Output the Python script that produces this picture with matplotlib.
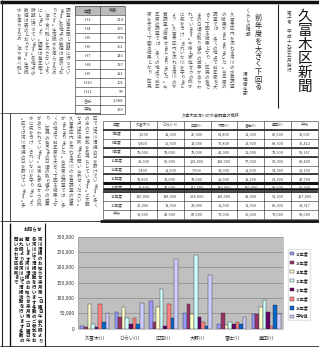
import numpy as np
import matplotlib
matplotlib.use('Agg')
from matplotlib import pyplot as plt

plt.rcParams['font.family'] = ['Noto Sans CJK JP', 'DejaVu Sans']

# chart data
rivers = ['久富木川', 'ひらい川', '広田川', '大野川', '富士川', '豊田川']
years = ['12年度', '13年度', '14年度', '15年度', '16年度', '17年度', '18年度', '平均値']
colors = ['#9999FF', '#993366', '#FFFFCC', '#CCFFFF', '#660066', '#FF8080', '#0066CC', '#CCCCFF']
values = [
    [10000, 54000, 91000, 51000, 16000, 48000],
    [4000, 38000, 22000, 79000, 51000, 48000],
    [79000, 72000, 72000, 47000, 13000, 70000],
    [15000, 34000, 131000, 240000, 22000, 95000],
    [4000, 15000, 10000, 38000, 16000, 54000],
    [79000, 34000, 79000, 22000, 22000, 9000],
    [22000, 15000, 34000, 10000, 16000, 77000],
    [51000, 85000, 228000, 175000, 39000, 48000],
]

# small table (top left)
small_head = ['年度', '件数']
small_rows = ['H.3', 'H.4', 'H.5', 'H.6', 'H.7', 'H.8', 'H.9', 'H.10', 'H.11', '合計', '平均']
small_vals = ['214', '195', '170', '161', '146', '137', '121', '101', '98', '1,388', '139']

# big table (middle)
table_title = '久富木区河川の水質調査の推移'
table_head = ['年度', '久富木川', 'ひらい川', '広田川', '大野川', '富士川', '豊田川', '平均']
table_rows = ['7年度', '8年度', '9年度', '10年度', '11年度', '12年度', '13年度', '14年度', '15年度', '平均']
table_vals = [
    ['1,000', '18,300', '25,000', '61,800', '11,300', '89,500', '31,037'],
    ['5,800', '15,300', '13,000', '76,800', '19,300', '88,300', '36,412'],
    ['78,000', '78,000', '78,000', '41,000', '11,000', '78,500', '58,167'],
    ['19,000', '92,000', '108,000', '138,000', '77,000', '92,000', '89,400'],
    ['7,400', '11,900', '7,500', '31,000', '11,900', '54,300', '21,100'],
    ['78,800', '38,000', '78,000', '19,000', '18,200', '61,300', '43,700'],
    ['18,900', '79,000', '141,000', '240,000', '140,000', '89,900', '90,500'],
    ['130,000', '138,000', '228,000', '118,000', '41,000', '91,300', '127,000'],
    ['22,000', '13,300', '23,000', '11,000', '11,300', '89,300', '28,317'],
    ['38,000', '49,000', '87,000', '73,000', '35,000', '73,000', '58,000'],
]

body_a = ('久富木区内を流れる河川の水質調査の結果がまとまりました。'
          '今年度の調査では、多くの地点で前年度を大きく下回る結果となり、'
          '区民の皆さまの日頃の取り組みの成果があらわれています。'
          '今後も家庭からの排水に気をつけ、きれいな川を守りましょう。')
body_b = ('調査は毎年同じ時期に行っています。各地点の数値は表のとおりです。'
          '生活排水を減らすため、油や食べ残しを流さないようにしましょう。')
body_c = ('区では河川清掃の日を設けています。多くの方のご参加をお待ちしています。'
          'ご不明な点は区役所までお問い合わせください。')
box_text = '河川清掃のお知らせ来月第一日曜日午前九時より各河川にて清掃活動を行います多数のご参加をお願いします'

W, H = 319, 347
fig = plt.figure(figsize=(W / 100, H / 100), dpi=100)
bg = fig.add_axes([0, 0, 1, 1])
bg.set_xlim(0, W)
bg.set_ylim(H, 0)
bg.axis('off')


def hline(y, x0, x1, lw=0.6, c='#222'):
    bg.plot([x0, x1], [y, y], color=c, lw=lw, solid_capstyle='butt')


def vline(x, y0, y1, lw=0.6, c='#222'):
    bg.plot([x, x], [y0, y1], color=c, lw=lw, solid_capstyle='butt')


def vcolumns(text, x_right, y_top, n_chars, step, size, ncols, color='#555', weight='normal'):
    # japanese vertical writing, columns go right to left
    for k in range(ncols):
        chunk = text[(k * n_chars) % len(text):][:n_chars]
        if len(chunk) < n_chars:
            chunk = (chunk + text)[:n_chars]
        bg.text(x_right - k * step, y_top, '\n'.join(chunk), fontsize=size,
                ha='center', va='top', linespacing=0.95, color=color, fontweight=weight)


# frame lines
hline(1.5, 0, W, lw=2.5, c='#111')
vline(1.5, 0, 347, lw=0.8)
vline(278, 4, 108, lw=0.8)
hline(113, 0, 100, lw=0.5)
hline(221, 100, W, lw=2.0, c='#111')
hline(221, 0, 100, lw=0.6)
vline(10, 113, 221, lw=0.6)
hline(345.5, 0, W, lw=0.6)

# title block
bg.text(305, 10, '\n'.join('久富木区新聞'), fontsize=10.5, ha='center', va='top',
        linespacing=1.0, color='#111')
bg.text(289, 10, '\n'.join('第十号 平成十九年五月発行'), fontsize=3.3, ha='center', va='top',
        linespacing=0.95, color='#444')

# headline block
bg.text(248, 8, '\n'.join('くらしの情報'), fontsize=3.3, ha='center', va='top',
        linespacing=0.95, color='#444')
bg.text(258, 14, '\n'.join('前年度を大きく下回る'), fontsize=5.2, ha='center', va='top',
        linespacing=0.95, color='#222')
bg.text(245, 72, '\n'.join('環境衛生部'), fontsize=3.3, ha='center', va='top',
        linespacing=0.95, color='#444')

vcolumns(body_a, 232, 12, 16, 8.3, 3.3, 11)
vcolumns(body_b, 68, 8, 14, 7.0, 3.3, 8)
vcolumns(body_c + body_a, 95, 116, 19, 8.0, 3.3, 10)

# small table
sx = [75, 100, 125]
sy0, srow = 6, 9.0
bg.add_patch(plt.Rectangle((sx[0], sy0), sx[2] - sx[0], srow, color='#bbb', lw=0))
for r in range(len(small_rows) + 2):
    hline(sy0 + r * srow, sx[0], sx[2], lw=0.4)
for x in sx:
    vline(x, sy0, sy0 + (len(small_rows) + 1) * srow, lw=0.4)
for c, t in enumerate(small_head):
    bg.text((sx[c] + sx[c + 1]) / 2, sy0 + srow / 2, t, fontsize=3, ha='center', va='center', color='#333')
for r, (a, b) in enumerate(zip(small_rows, small_vals)):
    y = sy0 + (r + 1.5) * srow
    bg.text((sx[0] + sx[1]) / 2, y, a, fontsize=3, ha='center', va='center', color='#444')
    bg.text(sx[2] - 1.5, y, b, fontsize=3, ha='right', va='center', color='#444')

# big table
tx0, tx1 = 103, 318
ty0, trow = 121, 8.9
cw = (tx1 - tx0) / len(table_head)
bg.text((tx0 + tx1) / 2, 115.5, table_title, fontsize=3, ha='center', va='center', color='#444')
nrow = len(table_rows) + 1
for r in range(nrow + 1):
    hline(ty0 + r * trow, tx0, tx1, lw=0.4)
for c in range(len(table_head) + 1):
    vline(tx0 + c * cw, ty0, ty0 + nrow * trow, lw=0.4)
for r in [1, 3, 4, 6, 8]:
    hline(ty0 + r * trow, tx0, tx1, lw=1.3, c='#333')
hline(ty0 + 7 * trow, tx0, tx1, lw=2.2, c='#111')
hline(ty0 + 7.6 * trow, tx0, tx1, lw=1.8, c='#111')
for c, t in enumerate(table_head):
    bg.text(tx0 + (c + 0.5) * cw, ty0 + trow / 2, t, fontsize=2.8, ha='center', va='center', color='#444')
for r, (lab, row) in enumerate(zip(table_rows, table_vals)):
    y = ty0 + (r + 1.5) * trow
    bg.text(tx0 + 0.5 * cw, y, lab, fontsize=2.8, ha='center', va='center', color='#444')
    for c, v in enumerate(row):
        bg.text(tx0 + (c + 1.5) * cw, y, v, fontsize=2.8, ha='center', va='center', color='#444')

# bottom-left box
vline(10, 223, 347, lw=1.0, c='#111')
vline(45, 223, 347, lw=0.8, c='#111')
bg.text(33, 230, 'お知らせ', fontsize=3.3, ha='center', va='center', color='#111', fontweight='bold')
vcolumns(box_text, 40, 237, 22, 6.2, 3.2, 4, color='#111', weight='bold')
bg.text(16, 237, '\n'.join('問い合わせ区役所まで'), fontsize=3.2, ha='center', va='top',
        linespacing=0.95, color='#111', fontweight='bold')

# bar chart
ax = fig.add_axes([77.7 / W, 1 - 328.7 / H, (283.3 - 77.7) / W, (328.7 - 236.7) / H])
ax.set_facecolor('#C0C0C0')
n = len(years)
w = 1 / (n + 1.5)
x = np.arange(len(rivers))
for j in range(n):
    ax.bar(x + (j - (n - 1) / 2) * w, values[j], width=w, color=colors[j],
           edgecolor='#333', linewidth=0.3, label=years[j], zorder=3)
ax.set_xlim(-0.5, len(rivers) - 0.5)
ax.set_ylim(0, 300000)
ax.set_yticks(np.arange(0, 300001, 50000))
ax.set_yticklabels([f'{v:,}' for v in range(0, 300001, 50000)], fontsize=3.6, color='#333')
ax.set_xticks(x)
ax.set_xticklabels(rivers, fontsize=3.6, color='#333')
ax.tick_params(axis='y', length=0, pad=2)
ax.tick_params(axis='x', length=0, pad=5)
ax.grid(axis='y', color='#888', lw=0.5, zorder=0)
for s in ax.spines.values():
    s.set_color('#999')
    s.set_linewidth(0.4)
ax.legend(loc='upper left', bbox_to_anchor=(286 / W, 1 - 247 / H), bbox_transform=fig.transFigure,
          fontsize=3, frameon=True, edgecolor='#ddd', fancybox=False, handlelength=0.9,
          handleheight=0.9, labelspacing=1.0, borderpad=0.4, handletextpad=0.5)

fig.savefig('out.png', dpi=100)
